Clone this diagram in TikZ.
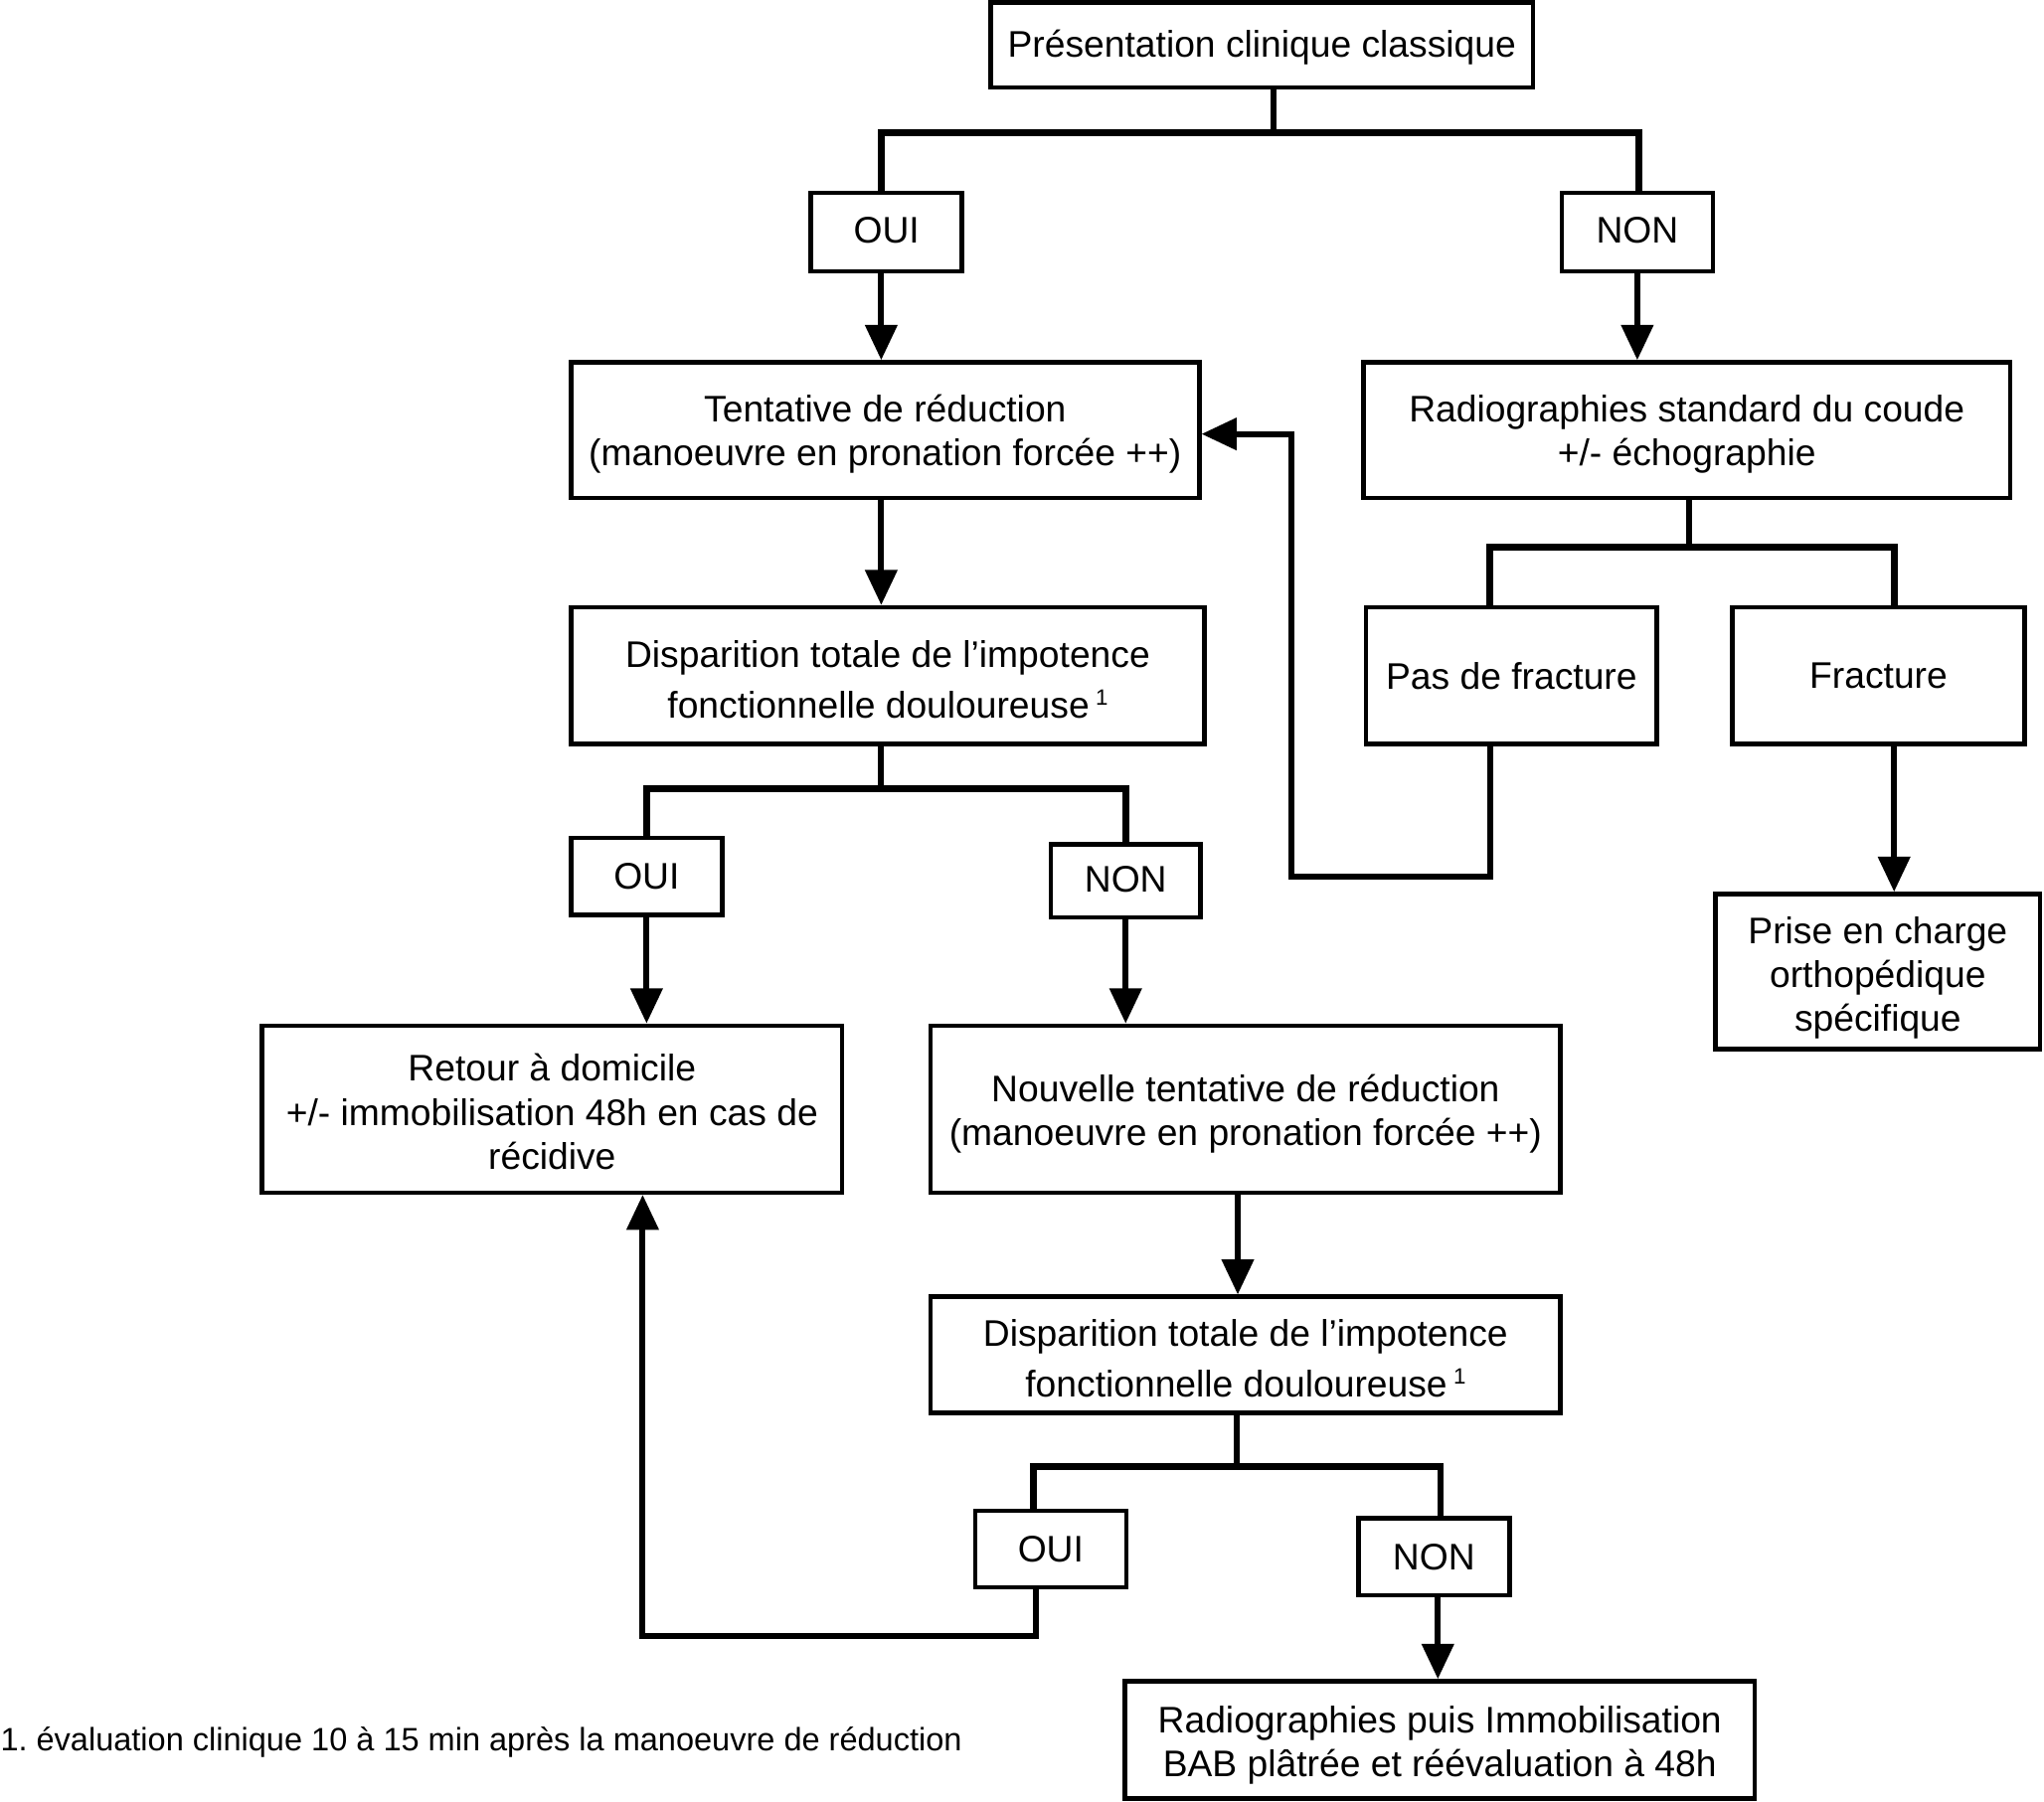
\documentclass[tikz,border=0pt]{standalone}
\usepackage{fontspec}
\setmainfont{Liberation Sans}
\usetikzlibrary{arrows.meta}
\frenchspacing
\tikzset{
  box/.style={draw, line width=1.7pt, inner sep=0pt},
  boxtext/.style={inner sep=0pt, align=center,
    font=\fontsize{14.2pt}{16.8pt}\selectfont},
  conn/.style={line width=2.3pt},
  bar/.style={line width=2.6pt},
  arr/.style={line width=2.3pt, -{Triangle[length=13.5pt, width=12pt]}},
}
\newcommand{\mybox}[7][0]{%
  \node[box, minimum width={(#5-#3)*0.5pt}, minimum height={(#6-#4)*0.5pt},
    label={[boxtext, yshift={-#1*0.5pt}]center:{#7}}]
    (#2) at ({(#3+#5)/2},{(#4+#6)/2}) {};}
\newcommand{\supone}{\,\raisebox{5pt}{\fontsize{8.5pt}{8.5pt}\selectfont 1}}
\begin{document}
\begin{tikzpicture}[x=0.5pt,y=-0.5pt]
\useasboundingbox (0,0) rectangle (1568,1382);
\mybox[2]{top}{760}{2}{1176}{67}{Présentation clinique classique}
\mybox[-1]{oui1}{622}{148}{738}{208}{OUI}
\mybox[-1]{non1}{1198}{148}{1314}{208}{NON}
\mybox[3]{tent}{438}{278}{920}{382}{Tentative de réduction\\(manoeuvre en pronation forcée ++)}
\mybox[3]{radio}{1046}{278}{1542}{382}{Radiographies standard du coude\\+/- échographie}
\mybox[3]{disp1}{438}{466}{924}{571}{Disparition totale de l’impotence\\[2.5pt]fonctionnelle douloureuse\supone}
\mybox{pas}{1048}{466}{1271}{571}{Pas de fracture}
\mybox{frac}{1329}{466}{1553}{571}{Fracture}
\mybox{oui2}{438}{643}{554}{702}{OUI}
\mybox[-1]{non2}{806}{648}{921}{704}{NON}
\mybox[2]{retour}{201}{787}{646}{915}{Retour à domicile\\+/- immobilisation 48h en cas de\\récidive}
\mybox[4]{nouv}{714}{787}{1197}{915}{Nouvelle tentative de réduction\\(manoeuvre en pronation forcée ++)}
\mybox[5]{prise}{1316}{686}{1565}{805}{Prise en charge\\orthopédique\\spécifique}
\mybox[3]{disp2}{714}{995}{1197}{1084}{Disparition totale de l’impotence\\[2.5pt]fonctionnelle douloureuse\supone}
\mybox{oui3}{748}{1159}{864}{1218}{OUI}
\mybox{non3}{1042}{1165}{1158}{1224}{NON}
\mybox[4]{radpuis}{863}{1290}{1346}{1380}{Radiographies puis Immobilisation\\BAB plâtrée et réévaluation à 48h}
\node[anchor=west, inner sep=0pt, font=\fontsize{12.4pt}{14pt}\selectfont] (fn) at (0,1337)
  {1. évaluation clinique 10 à 15 min après la manoeuvre de réduction};

% top branch
\coordinate (j1) at (977,102);
\draw[conn] (top.south -| j1) -- (j1);
\draw[bar] ([xshift=-2pt]oui1.north) |- (j1) -| ([xshift=0.5pt]non1.north);
\draw[arr] ([xshift=-2pt]oui1.south) -- ([xshift=-2pt]oui1.south |- tent.north);
\draw[arr] (non1.south) -- (non1.south |- radio.north);
\draw[arr] ([xshift=-1.5pt]tent.south) -- ([xshift=-1.5pt]tent.south |- disp1.north);

% radio branch
\coordinate (j2) at (1296,420);
\draw[conn] (radio.south -| j2) -- (j2);
\draw[bar] ([xshift=-8.5pt]pas.north) |- (j2) -| ([xshift=6pt]frac.north);
\coordinate (l1) at (991,673);
\draw[arr] ([xshift=-8pt]pas.south) |- (l1) |- ([yshift=-1.5pt]tent.east);
\draw[arr] ([xshift=6pt]frac.south) -- ([xshift=6pt]frac.south |- prise.north);

% disp1 branch
\coordinate (j3) at (676,605);
\draw[conn] (disp1.south -| j3) -- (j3);
\draw[bar] (oui2.north) |- (j3) -| (non2.north);
\draw[arr] (oui2.south) -- (oui2.south |- retour.north);
\draw[arr] (non2.south) -- (non2.south |- nouv.north);
\draw[arr] ([xshift=-3pt]nouv.south) -- ([xshift=-3pt]nouv.south |- disp2.north);

% disp2 branch
\coordinate (j4) at (949,1125);
\draw[conn] (disp2.south -| j4) -- (j4);
\draw[bar] ([xshift=-6.5pt]oui3.north) |- (j4) -| ([xshift=2.5pt]non3.north);
\coordinate (l2) at (493,1255);
\draw[arr] ([xshift=-5.5pt]oui3.south) |- (l2) -- (l2 |- retour.south);
\draw[arr] ([xshift=1.5pt]non3.south) -- ([xshift=1.5pt]non3.south |- radpuis.north);
\end{tikzpicture}
\end{document}
